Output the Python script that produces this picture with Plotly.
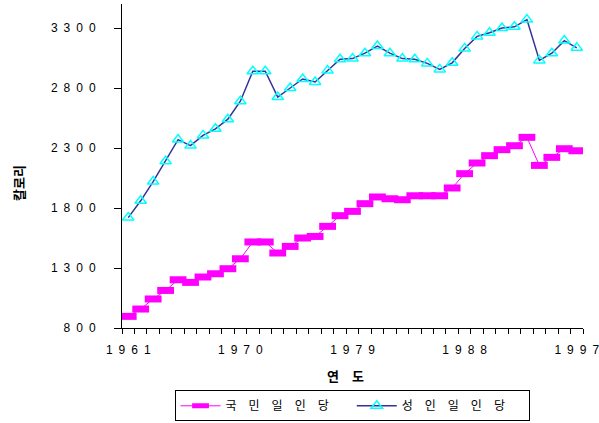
import plotly.graph_objects as go

SP = "\u2002"  # wide gap used between characters of labels

years = list(range(1961, 1998))

# per-capita daily supply, whole population
national = [897, 958, 1042, 1113, 1202, 1180, 1225, 1252, 1294, 1377,
            1517, 1517, 1425, 1480, 1550, 1563, 1647, 1736, 1772, 1836,
            1892, 1877, 1869, 1902, 1902, 1902, 1967, 2086, 2175, 2236,
            2286, 2319, 2389, 2155, 2222, 2294, 2277]

# per-capita daily supply, adult equivalent
adult = [1720, 1860, 2020, 2190, 2370, 2320, 2405, 2460, 2540, 2690,
         2940, 2940, 2725, 2800, 2875, 2850, 2945, 3040, 3045, 3090,
         3150, 3090, 3045, 3040, 3005, 2955, 3010, 3130, 3230, 3260,
         3300, 3310, 3370, 3030, 3090, 3195, 3135]

series_names = ["국 민 일 인 당", "성 인 일 인 당"]
x_tick_years = [1961, 1970, 1979, 1988, 1997]
y_ticks = [800, 1300, 1800, 2300, 2800, 3300]


def spaced(s):
    return SP.join(list(str(s)))


def spaced_name(s):
    return s.replace(" ", "\u2003") + "\u2003\u2002"


tick_font = dict(family="Liberation Sans, Arial, sans-serif", size=12, color="#000000")

fig = go.Figure()

fig.add_trace(go.Scatter(
    x=years, y=national, name=spaced_name(series_names[0]),
    mode="lines+markers",
    line=dict(color="#FF00FF", width=1),
    marker=dict(symbol="line-ew", size=12,
                line=dict(color="#FF00FF", width=7)),
))

fig.add_trace(go.Scatter(
    x=years, y=adult, name=spaced_name(series_names[1]),
    mode="lines+markers",
    line=dict(color="#333399", width=1.5),
    marker=dict(symbol="triangle-up-open", size=10, color="#00FFFF",
                line=dict(color="#00FFFF", width=1.5)),
))

fig.update_layout(
    width=599, height=423,
    margin=dict(l=122, r=16, t=4, b=95, autoexpand=False),
    paper_bgcolor="white", plot_bgcolor="white",
    showlegend=True,
    legend=dict(
        orientation="h", x=0.499, xanchor="center",
        yref="container", y=0.004, yanchor="bottom",
        bordercolor="#000000", borderwidth=1, bgcolor="white",
        font=dict(family="Noto Sans CJK KR, sans-serif", size=12, color="#000000"),
        itemwidth=40, tracegroupgap=0,
    ),
)

fig.update_xaxes(
    range=[1960.5, 1997.5],
    showline=True, linecolor="#000000", linewidth=1,
    showgrid=False, zeroline=False,
    tickmode="array", tickvals=x_tick_years,
    ticktext=[spaced(y) for y in x_tick_years],
    ticks="outside", ticklen=5, tickcolor="rgba(0,0,0,0)",
    ticklabelstandoff=6, ticklabeloverflow="allow",
    tickfont=tick_font,
    minor=dict(tick0=1960.5, dtick=1, ticks="outside", ticklen=5,
               tickcolor="#000000", tickwidth=1, showgrid=False),
)

fig.update_yaxes(
    range=[800, 3500],
    showline=True, linecolor="#000000", linewidth=1,
    showgrid=False, zeroline=False,
    tickmode="array", tickvals=y_ticks,
    ticktext=[spaced(v) for v in y_ticks],
    ticks="outside", ticklen=7, tickcolor="#000000", tickwidth=1,
    ticklabelstandoff=16, ticklabeloverflow="allow",
    tickfont=tick_font,
)

# axis titles
fig.add_annotation(
    text="<b>연\u2003도</b>", xref="paper", yref="paper",
    x=(345 - 122) / 461, y=(328 - 375) / 324,
    xanchor="center", yanchor="middle", showarrow=False,
    font=dict(family="Noto Sans CJK KR, sans-serif", size=13, color="#000000"),
)
fig.add_annotation(
    text="<b>칼로리</b>", xref="paper", yref="paper",
    x=(18 - 122) / 461, y=(328 - 183) / 324,
    xanchor="center", yanchor="middle", showarrow=False, textangle=-90,
    font=dict(family="Noto Sans CJK KR, sans-serif", size=13, color="#000000"),
)

fig.write_html("out.html")
